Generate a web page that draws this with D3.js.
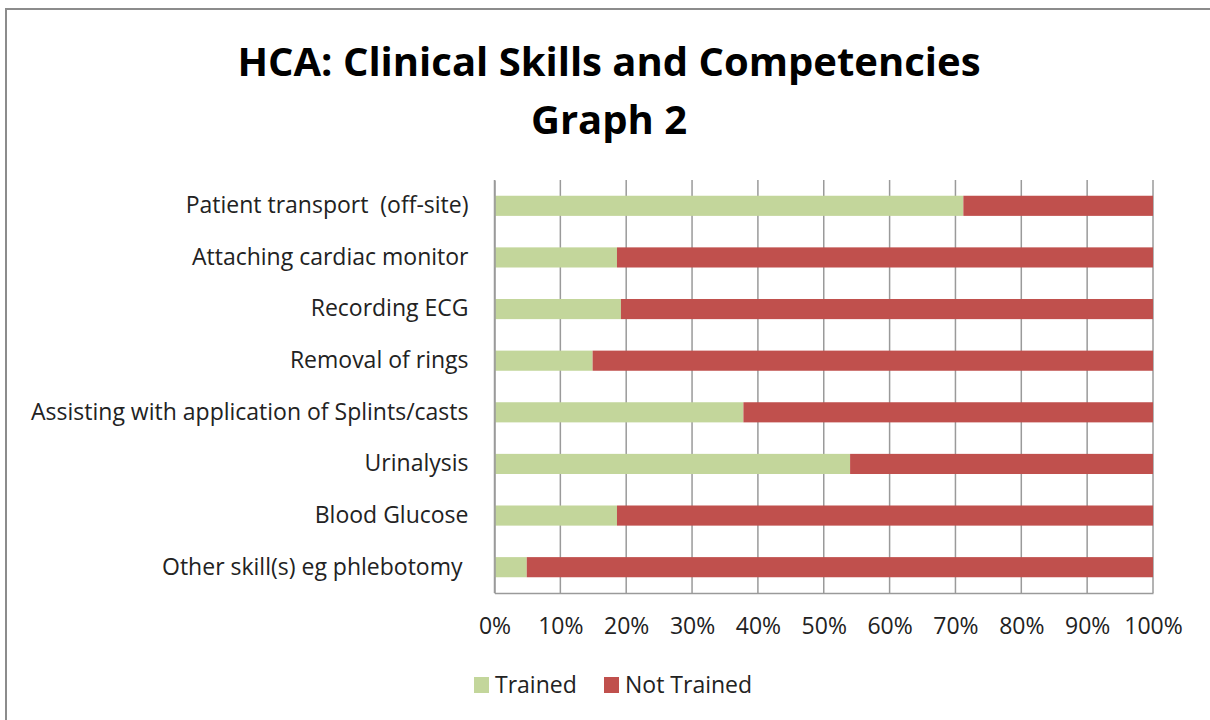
<!DOCTYPE html>
<html>
<head>
<meta charset="utf-8">
<script src="https://cdn.jsdelivr.net/npm/d3@7"></script>
<style>
  body { margin: 0; background: #fff; }
  svg { display: block; font-family: "Open Sans", sans-serif; }
</style>
</head>
<body>
<div id="chart"></div>
<script>
////////// Data
var skills = [
  "Patient transport  (off-site)",
  "Attaching cardiac monitor",
  "Recording ECG",
  "Removal of rings",
  "Assisting with application of Splints/casts",
  "Urinalysis",
  "Blood Glucose",
  "Other skill(s) eg phlebotomy "
];
var trained    = [71.2, 18.6, 19.2, 14.9, 37.8, 54.0, 18.6, 4.9];
var notTrained = [28.8, 81.4, 80.8, 85.1, 62.2, 46.0, 81.4, 95.1];
var seriesNames = ["Trained", "Not Trained"];
var tickValues = [0, 0.1, 0.2, 0.3, 0.4, 0.5, 0.6, 0.7, 0.8, 0.9, 1];

var W = 1210, H = 720;
var colors = { "Trained": "#C3D69B", "Not Trained": "#C0504D" };
var textFont = "'Open Sans', sans-serif";
var fs = 23;

var svg = d3.select("#chart").append("svg")
  .attr("width", W).attr("height", H);

// chart frame
svg.append("rect")
  .attr("x", 6).attr("y", 9)
  .attr("width", W + 10).attr("height", H + 10)
  .attr("fill", "#fff").attr("stroke", "#8c8c8c").attr("stroke-width", 2);

// title
var title = svg.append("text")
  .attr("text-anchor", "middle")
  .attr("font-weight", "bold")
  .attr("font-family", textFont)
  .attr("font-size", 40)
  .attr("fill", "#000");
title.append("tspan").attr("x", 609).attr("y", 76).text("HCA: Clinical Skills and Competencies");
title.append("tspan").attr("x", 609).attr("y", 134).text("Graph 2");

// rows -> percent stacked
var rows = skills.map(function(s, i) {
  var tot = trained[i] + notTrained[i];
  return { skill: s, "Trained": trained[i] / tot, "Not Trained": notTrained[i] / tot };
});
var stack = d3.stack().keys(seriesNames)(rows);

var plotLeft = 494.5, plotRight = 1153, plotTop = 180, plotBottom = 593;

var x = d3.scaleLinear().domain([0, 1]).range([plotLeft, plotRight]);
var y = d3.scaleBand().domain(skills).range([plotTop, plotBottom]).paddingInner(0.61).paddingOuter(0.305);

// vertical gridlines
svg.append("g").selectAll("line")
  .data(tickValues)
  .enter().append("line")
  .attr("x1", function(d) { return x(d); })
  .attr("x2", function(d) { return x(d); })
  .attr("y1", plotTop).attr("y2", plotBottom)
  .attr("stroke", "#9a9a9a").attr("stroke-width", 1.5);

// bars
svg.append("g").selectAll("g")
  .data(stack)
  .enter().append("g")
  .attr("fill", function(d) { return colors[d.key]; })
  .selectAll("rect")
  .data(function(d) { return d; })
  .enter().append("rect")
  .attr("x", function(d) { return x(d[0]); })
  .attr("width", function(d) { return x(d[1]) - x(d[0]); })
  .attr("y", function(d) { return y(d.data.skill); })
  .attr("height", y.bandwidth());

// x axis
var xAxis = d3.axisBottom(x).tickValues(tickValues).tickFormat(d3.format(".0%")).tickSize(0).tickPadding(25);
var gx = svg.append("g").attr("transform", "translate(0," + plotBottom + ")").call(xAxis);
gx.select(".domain").attr("stroke", "#9a9a9a").attr("stroke-width", 1.5);
gx.selectAll("text").attr("font-size", fs).attr("fill", "#222").attr("font-family", textFont);

// y axis
var yAxis = d3.axisLeft(y).tickSize(0).tickPadding(26);
var gy = svg.append("g").attr("transform", "translate(" + plotLeft + ",0)").call(yAxis);
gy.select(".domain").attr("stroke", "#9a9a9a").attr("stroke-width", 1.5);
gy.selectAll("text").attr("font-size", fs).attr("fill", "#222").attr("font-family", textFont)
  .attr("xml:space", "preserve").style("white-space", "pre");

// legend
var legendX = [474, 604];
var legend = svg.append("g").selectAll("g")
  .data(seriesNames)
  .enter().append("g")
  .attr("transform", function(d, i) { return "translate(" + legendX[i] + ",677)"; });
legend.append("rect")
  .attr("width", 15).attr("height", 16)
  .attr("fill", function(d) { return colors[d]; });
legend.append("text")
  .attr("x", 21).attr("y", 16)
  .attr("font-size", fs).attr("fill", "#222").attr("font-family", textFont)
  .text(function(d) { return d; });
</script>
</body>
</html>
